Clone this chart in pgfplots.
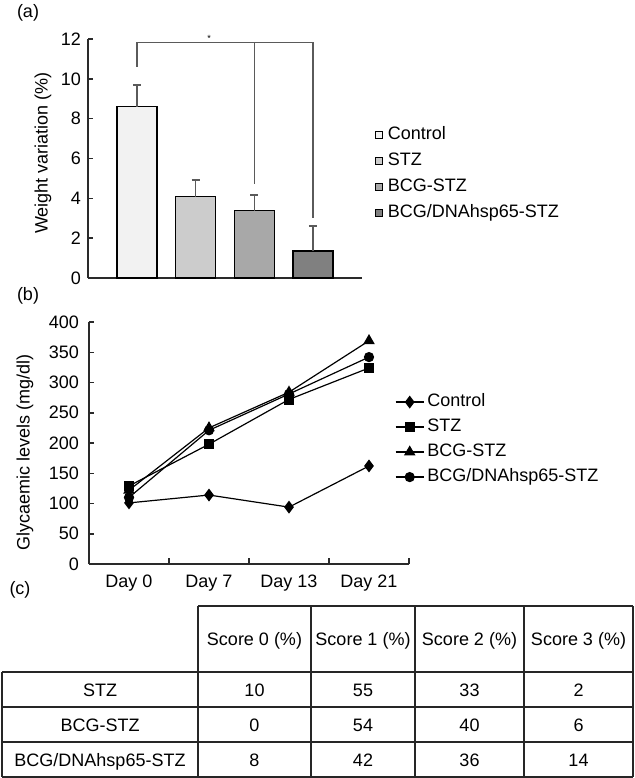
\documentclass[border=0pt]{standalone}
\usepackage{pgfplots}
\pgfplotsset{compat=1.18}
\usepackage{fontspec}
\setmainfont{Liberation Sans}
\newcommand\F{\fontsize{18}{21}\selectfont}
\definecolor{cA}{HTML}{F2F2F2}
\definecolor{cB}{HTML}{CCCCCC}
\definecolor{cC}{HTML}{A8A8A8}
\definecolor{cD}{HTML}{808080}
\definecolor{ax}{HTML}{2A2A2A}
\definecolor{eb}{HTML}{5A5A5A}
\begin{document}
\begin{tikzpicture}
\pgfplotsset{
  every axis/.append style={
    scale only axis, clip=false,
    axis x line*=bottom, axis y line*=left,
    axis line style={-, draw=ax, line width=1.5pt},
    tick align=inside, major tick length=5pt,
    tick style={draw=ax, line width=1.5pt},
    tick label style={font=\F},
    /pgf/number format/assume math mode=true,
  },
}
% ---------- (a)
\begin{axis}[at={(88pt,-278pt)}, anchor=south west, width=274pt, height=239pt,
  xmin=-0.836, xmax=3.836, ymin=0, ymax=12, xtick=\empty, ytick={0,2,...,12},
  yticklabel style={inner sep=0pt, xshift=-7pt},
  every axis y label/.style={at={(axis description cs:-0.164,0.523)}, rotate=90, anchor=center, font=\F},
  ylabel={Weight variation (\%)},
  legend style={font=\F, draw=none, fill=none, at={(axis description cs:1.047,0.634)}, anchor=north west, inner sep=0pt, row sep=9pt, column sep=5pt, nodes={inner sep=0pt, text height=13pt, text depth=4pt}},
  legend cell align=left,
]
\addplot[ybar, bar width=40pt, bar shift=0pt, fill=cA, draw=black, line width=1.2pt, forget plot,
  error bars/.cd, y dir=plus, y explicit, error bar style={draw=eb, line width=1.5pt},
  error mark options={rotate=90, draw=eb, mark size=4pt, line width=1.5pt}]
  coordinates {(0,8.6) +- (0,1.1)};
\addplot[ybar, bar width=40pt, bar shift=0pt, fill=cB, draw=black, line width=1.2pt, forget plot,
  error bars/.cd, y dir=plus, y explicit, error bar style={draw=eb, line width=1.5pt},
  error mark options={rotate=90, draw=eb, mark size=4pt, line width=1.5pt}]
  coordinates {(1,4.08) +- (0,0.84)};
\addplot[ybar, bar width=40pt, bar shift=0pt, fill=cC, draw=black, line width=1.2pt, forget plot,
  error bars/.cd, y dir=plus, y explicit, error bar style={draw=eb, line width=1.5pt},
  error mark options={rotate=90, draw=eb, mark size=4pt, line width=1.5pt}]
  coordinates {(2,3.37) +- (0,0.8)};
\addplot[ybar, bar width=40pt, bar shift=0pt, fill=cD, draw=black, line width=1.2pt, forget plot,
  error bars/.cd, y dir=plus, y explicit, error bar style={draw=eb, line width=1.5pt},
  error mark options={rotate=90, draw=eb, mark size=4pt, line width=1.5pt}]
  coordinates {(3,1.36) +- (0,1.24)};
\addlegendimage{legend image code/.code={\draw[fill=cA, draw=black, line width=0.8pt] (0pt,-3.5pt) rectangle (7pt,3.5pt);}}
\addlegendentry{Control}
\addlegendimage{legend image code/.code={\draw[fill=cB, draw=black, line width=0.8pt] (0pt,-3.5pt) rectangle (7pt,3.5pt);}}
\addlegendentry{STZ}
\addlegendimage{legend image code/.code={\draw[fill=cC, draw=black, line width=0.8pt] (0pt,-3.5pt) rectangle (7pt,3.5pt);}}
\addlegendentry{BCG-STZ}
\addlegendimage{legend image code/.code={\draw[fill=cD, draw=black, line width=0.8pt] (0pt,-3.5pt) rectangle (7pt,3.5pt);}}
\addlegendentry{BCG/DNAhsp65-STZ}
\draw[eb, line width=1.5pt] (axis cs:0,10.6) -- (axis cs:0,11.82) -- (axis cs:3,11.82) -- (axis cs:3,3.0);
\draw[eb, line width=1.5pt] (axis cs:2,11.82) -- (axis cs:2,4.7);
\node[font=\fontsize{9}{9}\selectfont, inner sep=0pt] at (axis cs:1.23,12.05) {*};
\end{axis}
% ---------- (b)
\begin{axis}[at={(89pt,-564pt)}, anchor=south west, width=320pt, height=242pt,
  xmin=-0.5, xmax=3.5, ymin=0, ymax=400, ytick={0,50,...,400},
  xtick={0,1,2,3}, xticklabels={Day 0,Day 7,Day 13,Day 21},
  minor xtick={0.5,1.5,2.5,3.5}, minor tick length=6pt, major x tick style={draw=none},
  xticklabel style={inner sep=0pt, yshift=-11pt, anchor=north},
  yticklabel style={inner sep=0pt, xshift=-10pt},
  every axis y label/.style={at={(axis description cs:-0.2,0.459)}, rotate=90, anchor=center, font=\F},
  ylabel={Glycaemic levels (mg/dl)},
  legend style={font=\F, draw=none, fill=none, at={(axis description cs:0.956,0.705)}, anchor=north west, inner sep=0pt, row sep=8pt, column sep=3pt, nodes={inner sep=0pt, text height=13pt, text depth=4pt}},
  legend cell align=left,
  legend image code/.code={\draw[mark repeat=2, mark phase=2, #1] plot coordinates {(0pt,0pt) (14pt,0pt) (28pt,0pt)};},
]
\addplot[black, line width=1.2pt, mark=diamond*, mark size=5.5pt] coordinates {(0,101) (1,114) (2,94) (3,162)};
\addlegendentry{Control}
\addplot[black, line width=1.2pt, mark=square*, mark size=4.5pt] coordinates {(0,129) (1,198) (2,272) (3,324)};
\addlegendentry{STZ}
\addplot[black, line width=1.2pt, mark=triangle*, mark size=5.5pt] coordinates {(0,122) (1,225) (2,284) (3,369)};
\addlegendentry{BCG-STZ}
\addplot[black, line width=1.2pt, mark=*, mark size=4.5pt] coordinates {(0,110) (1,221) (2,281) (3,342)};
\addlegendentry{BCG/DNAhsp65-STZ}
\end{axis}
% ---------- panel labels
\node[font=\F] at (28pt,-13pt) {(a)};
\node[font=\F] at (28pt,-296pt) {(b)};
\node[font=\F] at (20pt,-590pt) {(c)};
% ---------- (c) table
\begin{scope}[line width=1.5pt, draw=black!85]
\draw (198pt,-606pt) -- (633pt,-606pt);
\draw (2pt,-672pt) -- (633pt,-672pt);
\draw (2pt,-707pt) -- (633pt,-707pt);
\draw (2pt,-742pt) -- (633pt,-742pt);
\draw (2pt,-777pt) -- (633pt,-777pt);
\foreach \x in {198,311,415,524,633} \draw (\x pt,-606pt) -- (\x pt,-777pt);
\draw (2pt,-672pt) -- (2pt,-777pt);
\end{scope}
\begin{scope}[every node/.style={font=\F, anchor=base, inner sep=0pt}]
\node at (254.5pt,-645.5pt) {Score 0 (\%)};
\node at (363pt,-645.5pt) {Score 1 (\%)};
\node at (469.5pt,-645.5pt) {Score 2 (\%)};
\node at (578.5pt,-645.5pt) {Score 3 (\%)};
\node at (100pt,-696pt) {STZ};
\node at (254.5pt,-696pt) {10};
\node at (363pt,-696pt) {55};
\node at (469.5pt,-696pt) {33};
\node at (578.5pt,-696pt) {2};
\node at (100pt,-731pt) {BCG-STZ};
\node at (254.5pt,-731pt) {0};
\node at (363pt,-731pt) {54};
\node at (469.5pt,-731pt) {40};
\node at (578.5pt,-731pt) {6};
\node at (100pt,-766pt) {BCG/DNAhsp65-STZ};
\node at (254.5pt,-766pt) {8};
\node at (363pt,-766pt) {42};
\node at (469.5pt,-766pt) {36};
\node at (578.5pt,-766pt) {14};
\end{scope}
\pgfresetboundingbox
\path[use as bounding box] (0pt,0pt) rectangle (634pt,-778pt);
\end{tikzpicture}
\end{document}
